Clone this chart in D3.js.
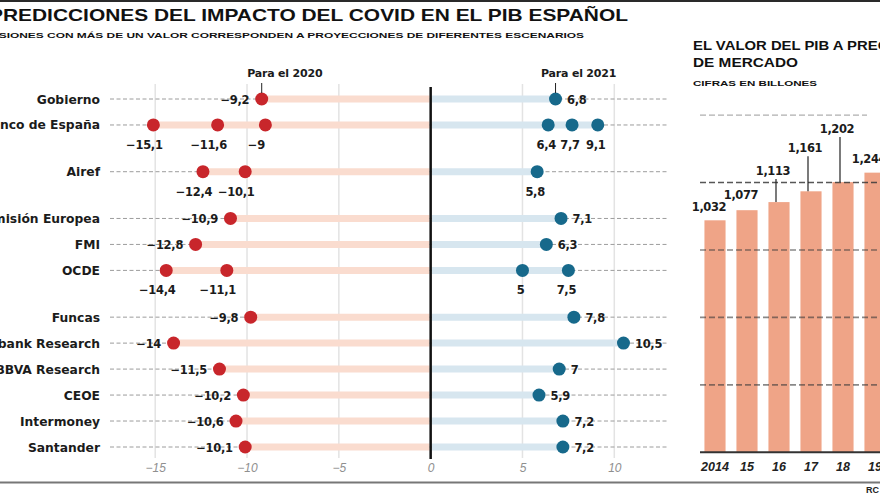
<!DOCTYPE html>
<html><head><meta charset="utf-8">
<script src="https://cdn.jsdelivr.net/npm/d3@7"></script>
<style>body{margin:0;background:#fff}svg{display:block;overflow:hidden}</style>
</head><body>
<svg id="c" width="880" height="495"></svg>
<script>
// ---------- DATA ----------
const title = "PREDICCIONES DEL IMPACTO DEL COVID EN EL PIB ESPAÑOL";
const subtitle = "PREVISIONES CON MÁS DE UN VALOR CORRESPONDEN A PROYECCIONES DE DIFERENTES ESCENARIOS";
const rows = ["Gobierno","Banco de España","Airef","Comisión Europea","FMI","OCDE","Funcas","Caixabank Research","BBVA Research","CEOE","Intermoney","Santander"];
const pib2020 = [[-9.2],[-15.1,-11.6,-9],[-12.4,-10.1],[-10.9],[-12.8],[-14.4,-11.1],[-9.8],[-14],[-11.5],[-10.2],[-10.6],[-10.1]];
const pib2021 = [[6.8],[6.4,7.7,9.1],[5.8],[7.1],[6.3],[5,7.5],[7.8],[10.5],[7],[5.9],[7.2],[7.2]];
const axisTicks = [-15,-10,-5,0,5,10];
const seriesLabels = ["Para el 2020","Para el 2021"];

const pibTitle1 = "EL VALOR DEL PIB A PRECIOS";
const pibTitle2 = "DE MERCADO";
const pibSub = "CIFRAS EN BILLONES";
const years = ["2014","15","16","17","18","19"];
const pibValues = [1032,1077,1113,1161,1202,1244];
const pibLabels = ["1,032","1,077","1,113","1,161","1,202","1,244"];
const pibGrid = [300,600,900,1200,1500];
const source = "RC";

// layout-only (label lift above bar top, px)
const barLabelRise = [9, 11, 27, 39, 49, 10];

// ---------- DRAW ----------
const svg = d3.select("#c");
const W = 880;
const BOLD = "'DejaVu Sans', sans-serif";
const ARIAL = "'Liberation Sans', Arial, sans-serif";
const INK = "#1b1b1b";
const fmt = v => (v < 0 ? "\u2212" : "") + String(Math.abs(v)).replace(".", ",");

// frame rules
svg.append("line").attr("x1",0).attr("x2",W).attr("y1",1).attr("y2",1).attr("stroke","#2a2a2a").attr("stroke-width",2);
svg.append("line").attr("x1",0).attr("x2",W).attr("y1",482.5).attr("y2",482.5).attr("stroke","#777").attr("stroke-width",2);

// titles
svg.append("text").attr("x",-11).attr("y",21).attr("font-family",ARIAL).attr("font-weight","bold")
  .attr("font-size",16.5).attr("textLength",639).attr("lengthAdjust","spacingAndGlyphs").attr("fill","#111").text(title);
svg.append("text").attr("x",-37).attr("y",37.5).attr("font-family",ARIAL).attr("font-weight","bold")
  .attr("font-size",8).attr("textLength",621).attr("lengthAdjust","spacingAndGlyphs").attr("fill","#111").text(subtitle);

// scales
const x = d3.scaleLinear().domain([-15,10]).range([155.2, 614.3]);
const isMulti = i => pib2020[i].length > 1 || pib2021[i].length > 1;
let s = 0;
const slots = rows.map((r,i) => { if (i > 0) s += 1 + (isMulti(i-1) ? 0.8 : 0); return s; });
const y = d3.scaleLinear().domain([0, slots[slots.length-1]]).range([99, 447]);

// vertical grid
svg.append("g").selectAll("line").data(axisTicks.filter(t => t !== 0)).join("line")
  .attr("x1", d => x(d)).attr("x2", d => x(d)).attr("y1", 84).attr("y2", 458)
  .attr("stroke","#e3e3e3").attr("stroke-width",1.5);

// rows
const g = svg.append("g");
rows.forEach((name, i) => {
  const yy = y(slots[i]);
  g.append("line").attr("x1",110).attr("x2",667).attr("y1",yy).attr("y2",yy)
    .attr("stroke","#9c9c9c").attr("stroke-width",1).attr("stroke-dasharray","4,2.5");
  g.append("line").attr("x1", x(d3.min(pib2020[i]))).attr("x2", x(0)-1).attr("y1",yy).attr("y2",yy)
    .attr("stroke","#fadccf").attr("stroke-width",7);
  g.append("line").attr("x1", x(0)+1).attr("x2", x(d3.max(pib2021[i]))).attr("y1",yy).attr("y2",yy)
    .attr("stroke","#d7e6ef").attr("stroke-width",7);
  g.append("text").attr("x",100).attr("y",yy+4.5).attr("text-anchor","end")
    .attr("font-family",BOLD).attr("font-weight","bold").attr("font-size",12.3).attr("fill",INK).text(name);
});

// zero line
svg.append("line").attr("x1",x(0)).attr("x2",x(0)).attr("y1",87).attr("y2",459).attr("stroke","#111").attr("stroke-width",2.5);

// dots + labels
const dots = svg.append("g");
rows.forEach((name, i) => {
  const yy = y(slots[i]);
  const multi = isMulti(i);
  [[pib2020[i], "#c8262b", -1], [pib2021[i], "#17698b", 1]].forEach(([vals, col, side]) => {
    vals.forEach(v => {
      dots.append("circle").attr("cx", x(v)).attr("cy", yy).attr("r", 6.5).attr("fill", col);
      const t = dots.append("text").attr("font-family",BOLD).attr("font-weight","bold")
        .attr("font-size",11.5).attr("fill",INK).attr("letter-spacing",-0.3).text(fmt(v));
      if (multi) {
        t.attr("x", x(v) + (v < 0 ? -9 : -2)).attr("y", yy + 24).attr("text-anchor","middle");
      } else if (side < 0) {
        t.attr("x", x(v) - 12.5).attr("y", yy + 4.5).attr("text-anchor","end");
      } else {
        t.attr("x", x(v) + 11.5).attr("y", yy + 4.5).attr("text-anchor","start");
      }
    });
  });
});

// series labels with leaders
[[pib2020[0][0], seriesLabels[0]], [pib2021[0][0], seriesLabels[1]]].forEach(([v, lab]) => {
  svg.append("line").attr("x1",x(v)).attr("x2",x(v)).attr("y1",83).attr("y2",y(0)-6)
    .attr("stroke","#222").attr("stroke-width",1);
  svg.append("text").attr("x", x(v)-14.5).attr("y",77).attr("font-family",BOLD).attr("font-weight","bold")
    .attr("font-size",11).attr("fill",INK).attr("letter-spacing",-0.2).text(lab);
});

// x axis
const ax = svg.append("g").attr("transform","translate(0,460)")
  .call(d3.axisBottom(x).tickValues(axisTicks).tickSize(0).tickPadding(0).tickFormat(d => fmt(d)));
ax.select(".domain").remove();
ax.selectAll("text").attr("dy", 11.5).attr("font-family",ARIAL).attr("font-style","italic")
  .attr("font-size",12).attr("fill","#8f8f8f");

// ---------- right panel ----------
svg.append("text").attr("x",693).attr("y",50).attr("font-family",ARIAL).attr("font-weight","bold")
  .attr("font-size",13).attr("textLength",221).attr("lengthAdjust","spacingAndGlyphs").attr("fill","#111").text(pibTitle1);
svg.append("text").attr("x",693).attr("y",66.5).attr("font-family",ARIAL).attr("font-weight","bold")
  .attr("font-size",13).attr("textLength",105).attr("lengthAdjust","spacingAndGlyphs").attr("fill","#111").text(pibTitle2);
svg.append("text").attr("x",693).attr("y",86).attr("font-family",ARIAL).attr("font-weight","bold")
  .attr("font-size",8).attr("textLength",124).attr("lengthAdjust","spacingAndGlyphs").attr("fill","#111").text(pibSub);

const xb = d3.scaleBand().domain(years).range([699, 891]).paddingInner(0.34).paddingOuter(0.17);
const yb = d3.scaleLinear().domain([0, 1500]).range([452.3, 115.1]);

svg.append("g").selectAll("rect").data(pibValues).join("rect")
  .attr("x", (d,i) => xb(years[i])).attr("width", xb.bandwidth())
  .attr("y", d => yb(d)).attr("height", d => yb(0) - yb(d)).attr("fill","#efa487");

// grid over bars
svg.append("g").selectAll("line").data(pibGrid).join("line")
  .attr("x1",700).attr("x2", d => d === 1500 ? 867 : 880)
  .attr("y1", d => yb(d)).attr("y2", d => yb(d))
  .attr("stroke", d => d === 1500 ? "#9a9a9a" : "#3a3a3a")
  .attr("stroke-opacity", d => d === 1500 ? 1 : (d === 1200 ? 0.85 : 0.6))
  .attr("stroke-width", d => d === 1500 ? 1 : 1.6)
  .attr("stroke-dasharray", "6,3");
svg.append("line").attr("x1",700).attr("x2",880).attr("y1",yb(0)).attr("y2",yb(0))
  .attr("stroke","#333").attr("stroke-width",2);

// bar labels + leaders
pibValues.forEach((v, i) => {
  const cx = xb(years[i]) + xb.bandwidth()/2;
  const top = yb(v);
  const base = top - barLabelRise[i];
  if (barLabelRise[i] > 20) {
    svg.append("line").attr("x1",cx-3).attr("x2",cx-3).attr("y1",base+4).attr("y2",top)
      .attr("stroke","#222").attr("stroke-width",1.2);
  }
  svg.append("text").attr("x",cx-6).attr("y",base).attr("text-anchor","middle")
    .attr("font-family",BOLD).attr("font-weight","bold").attr("font-size",11.5)
    .attr("letter-spacing",-0.4).attr("fill",INK).text(pibLabels[i]);
});

// year labels
svg.append("g").selectAll("text").data(years).join("text")
  .attr("x", d => xb(d) + xb.bandwidth()/2).attr("y",471).attr("text-anchor","middle")
  .attr("font-family",ARIAL).attr("font-weight","bold").attr("font-style","italic")
  .attr("font-size",12.5).attr("fill","#222").text(d => d);

// source (cropped)
svg.append("text").attr("x",866).attr("y",493).attr("font-family",ARIAL).attr("font-weight","bold")
  .attr("font-size",9).attr("fill","#222").text(source);
</script>
</body></html>
